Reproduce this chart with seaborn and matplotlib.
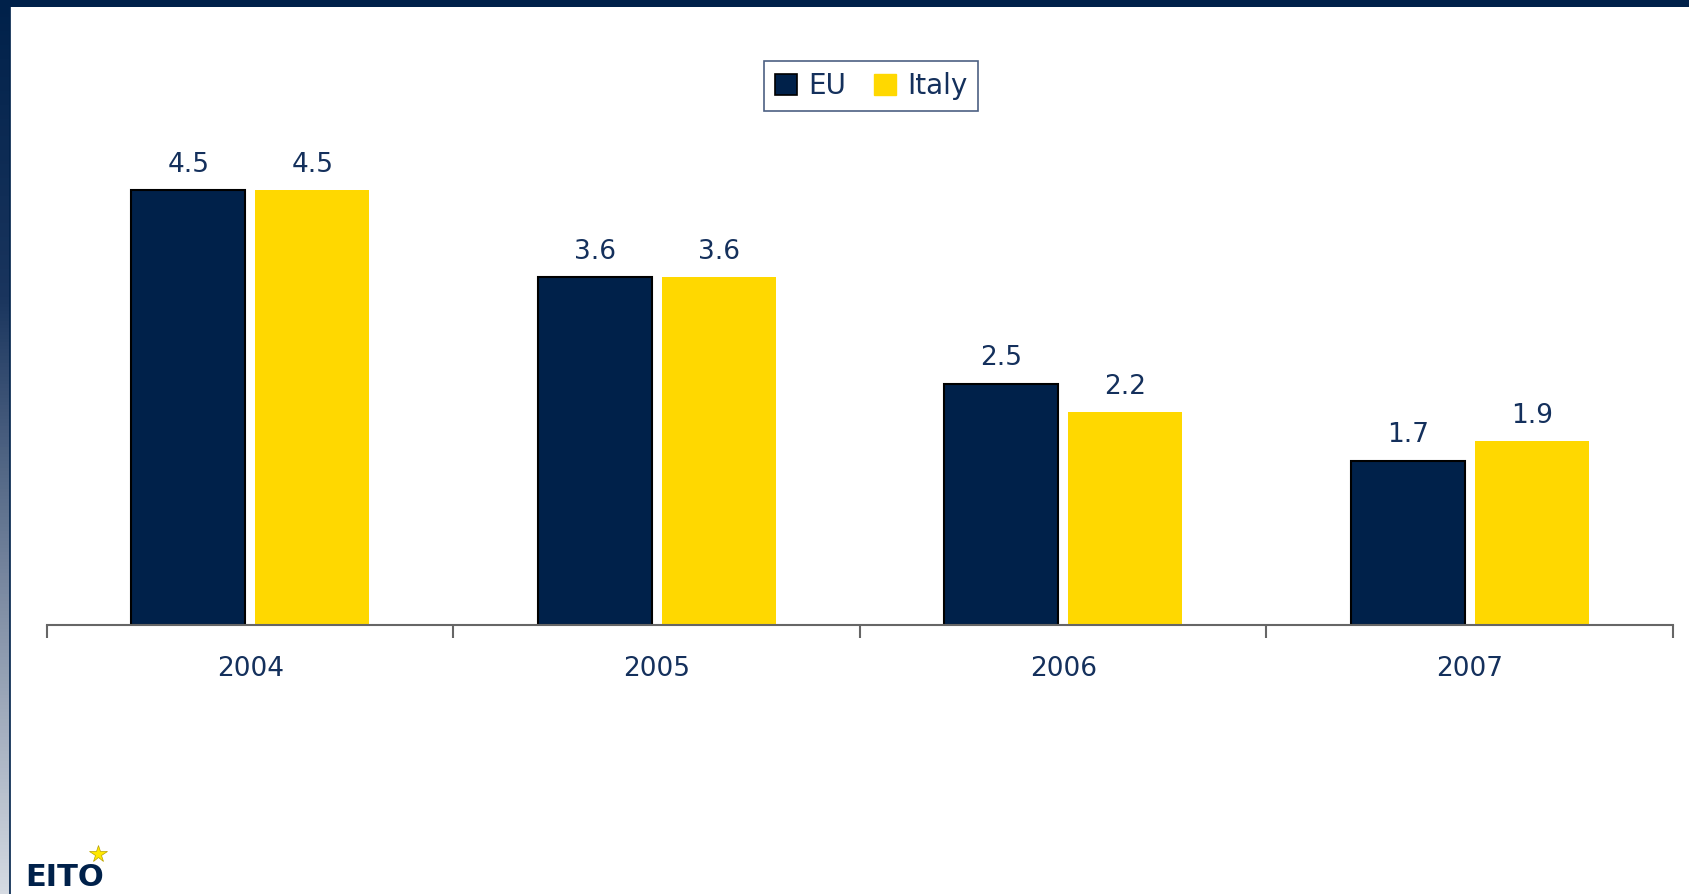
import numpy as np
import matplotlib
matplotlib.use('Agg')
import matplotlib.pyplot as plt
import seaborn as sns
import pandas as pd
from matplotlib.colors import LinearSegmentedColormap
from matplotlib.patches import Patch

years = ['2004', '2005', '2006', '2007']
eu = [4.5, 3.6, 2.5, 1.7]
italy = [4.5, 3.6, 2.2, 1.9]
series = ['EU', 'Italy']

navy = '#00214A'
yellow = '#FFD800'
txt = '#14305C'

df = pd.DataFrame({'year': years * 2,
                   'value': eu + italy,
                   'series': ['EU'] * 4 + ['Italy'] * 4})

sns.set_style('white')
plt.rcParams['font.family'] = ['DejaVu Sans']

fig = plt.figure(figsize=(16.9, 8.94), dpi=100)
ax = fig.add_axes([47 / 1690, 1 - 625 / 894, (1673 - 47) / 1690, 483 / 894])

sns.barplot(data=df, x='year', y='value', hue='series', palette=[navy, yellow],
            width=0.61, gap=0.08, ax=ax, legend=False, saturation=1)

# black outline only on the EU bars
for p in ax.containers[0]:
    p.set_edgecolor('black')
    p.set_linewidth(1.5)
for p in ax.containers[1]:
    p.set_linewidth(0)

for c in ax.containers:
    ax.bar_label(c, labels=[f'{v:.1f}' for v in c.datavalues], padding=9,
                 fontsize=19, color=txt)

ax.set_ylim(0, 5)
ax.set_xlim(-0.5, 3.5)
ax.set_xlabel('')
ax.set_ylabel('')
ax.set_yticks([])
for s in ['top', 'right', 'left']:
    ax.spines[s].set_visible(False)
ax.spines['bottom'].set_color('#666666')
ax.spines['bottom'].set_linewidth(1.5)
ax.set_xticks([0, 1, 2, 3])
ax.set_xticklabels(years, fontsize=19, color=txt)
ax.tick_params(axis='x', which='major', length=0, pad=22)
ax.set_xticks([-0.5, 0.5, 1.5, 2.5, 3.5], minor=True)
ax.tick_params(axis='x', which='minor', length=9, width=1.5, color='#666666', bottom=True)

# legend
handles = [Patch(facecolor=navy, edgecolor='black', linewidth=1.2),
           Patch(facecolor=yellow, edgecolor=yellow)]
leg = fig.legend(handles, series, loc='center', bbox_to_anchor=(871 / 1690, 1 - 86 / 894),
                 ncol=2, fontsize=20, frameon=True, fancybox=False,
                 handlelength=0.8, handleheight=0.8, handletextpad=0.4, columnspacing=1.0,
                 borderpad=0.4)
leg.get_frame().set_edgecolor('#1F3864')
leg.get_frame().set_linewidth(1.2)
for t in leg.get_texts():
    t.set_color(txt)

# frame decoration: top bar and left gradient strip
top = fig.add_axes([0, 1 - 7 / 894, 1, 7 / 894])
top.set_facecolor(navy)
top.set_xticks([]); top.set_yticks([])
for s in top.spines.values():
    s.set_visible(False)

left = fig.add_axes([0, 0, 10 / 1690, 1])
cmap = LinearSegmentedColormap.from_list('g', [navy, '#1A355E', '#7D8CA3', '#D5DAE2'])
left.imshow(np.linspace(0, 1, 256).reshape(-1, 1), aspect='auto', cmap=cmap)
left.set_xticks([]); left.set_yticks([])
for s in left.spines.values():
    s.set_visible(False)
fig.add_artist(plt.Line2D([10.5 / 1690, 10.5 / 1690], [0, 1], color=navy, lw=1.2))

# logo
fig.text(25 / 1690, 2 / 894, 'EITO', fontsize=22, fontweight='heavy', color=navy,
         ha='left', va='bottom', family='DejaVu Sans')
fig.add_artist(plt.Line2D([98 / 1690], [40 / 894], marker='*', markersize=13,
                          color='#FFE800', markeredgecolor='#B8A000', markeredgewidth=0.5))

fig.savefig('out.png', dpi=100)
